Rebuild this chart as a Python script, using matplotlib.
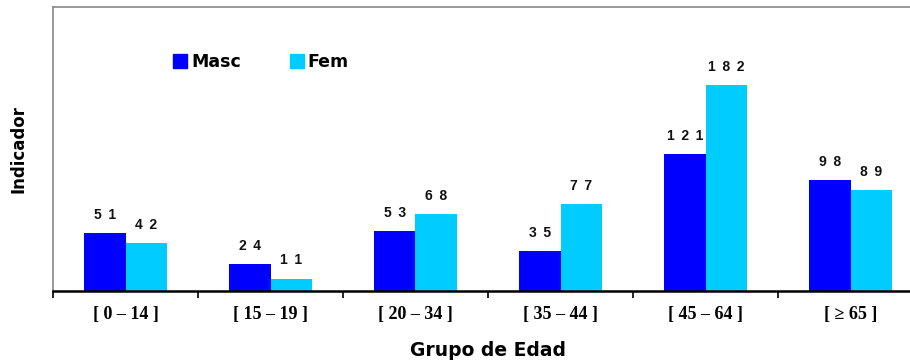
import matplotlib
matplotlib.use("Agg")
import matplotlib.pyplot as plt
from matplotlib.patches import Rectangle
import numpy as np

categories = ["[ 0 – 14 ]", "[ 15 – 19 ]", "[ 20 – 34 ]", "[ 35 – 44 ]", "[ 45 – 64 ]", "[ ≥ 65 ]"]
masc = [51, 24, 53, 35, 121, 98]
fem = [42, 11, 68, 77, 182, 89]
series_names = ["Masc", "Fem"]
colors = ["#0000FF", "#00CCFF"]

fig = plt.figure(figsize=(9.10, 3.63), dpi=100)
ax = fig.add_axes([53 / 910, 1 - 291 / 363, 870 / 910, 284 / 363])

x = np.arange(len(categories))
w = 0.286
b1 = ax.bar(x - w / 2, masc, w, color=colors[0], linewidth=0)
b2 = ax.bar(x + w / 2, fem, w, color=colors[1], linewidth=0)

# value labels with spaced-out digits
for bars, vals in ((b1, masc), (b2, fem)):
    for rect, v in zip(bars, vals):
        ax.annotate(" \u2009".join(str(v)), (rect.get_x() + rect.get_width() / 2, v),
                    xytext=(0, 8), textcoords="offset points", ha="center", va="bottom",
                    fontsize=10, fontweight="bold", family="Liberation Sans", color="#111111")

ax.set_xlim(-0.5, len(categories) - 0.5)
ax.set_ylim(0, 251)
ax.set_yticks([])

ax.set_xticks(np.arange(len(categories) + 1) - 0.5)
ax.set_xticklabels([])
ax.set_xticks(x, minor=True)
ax.set_xticklabels(categories, minor=True, fontsize=13, fontweight="bold", family="Liberation Serif")
ax.tick_params(axis="x", which="major", direction="out", length=5, width=1.2, color="black")
ax.tick_params(axis="x", which="minor", length=0, pad=11)

for side in ("left", "top", "right"):
    ax.spines[side].set_color("#888888")
    ax.spines[side].set_linewidth(1.2)
ax.spines["bottom"].set_color("black")
ax.spines["bottom"].set_linewidth(1.8)

ax.set_ylabel("Indicador", fontsize=12, fontweight="bold", family="DejaVu Sans", labelpad=18)
ax.set_xlabel("Grupo de Edad", fontsize=13.5, fontweight="bold", family="DejaVu Sans", labelpad=13)

handles = [Rectangle((0, 0), 1, 1, color=c) for c in colors]
ax.legend(handles, series_names, loc="upper left", bbox_to_anchor=(0.12, 0.893), ncol=2,
          frameon=False, handlelength=0.8, handleheight=0.8, handletextpad=0.25,
          columnspacing=2.8, prop={"family": "DejaVu Sans", "weight": "bold", "size": 12.5})

fig.savefig("out.png", dpi=100)
